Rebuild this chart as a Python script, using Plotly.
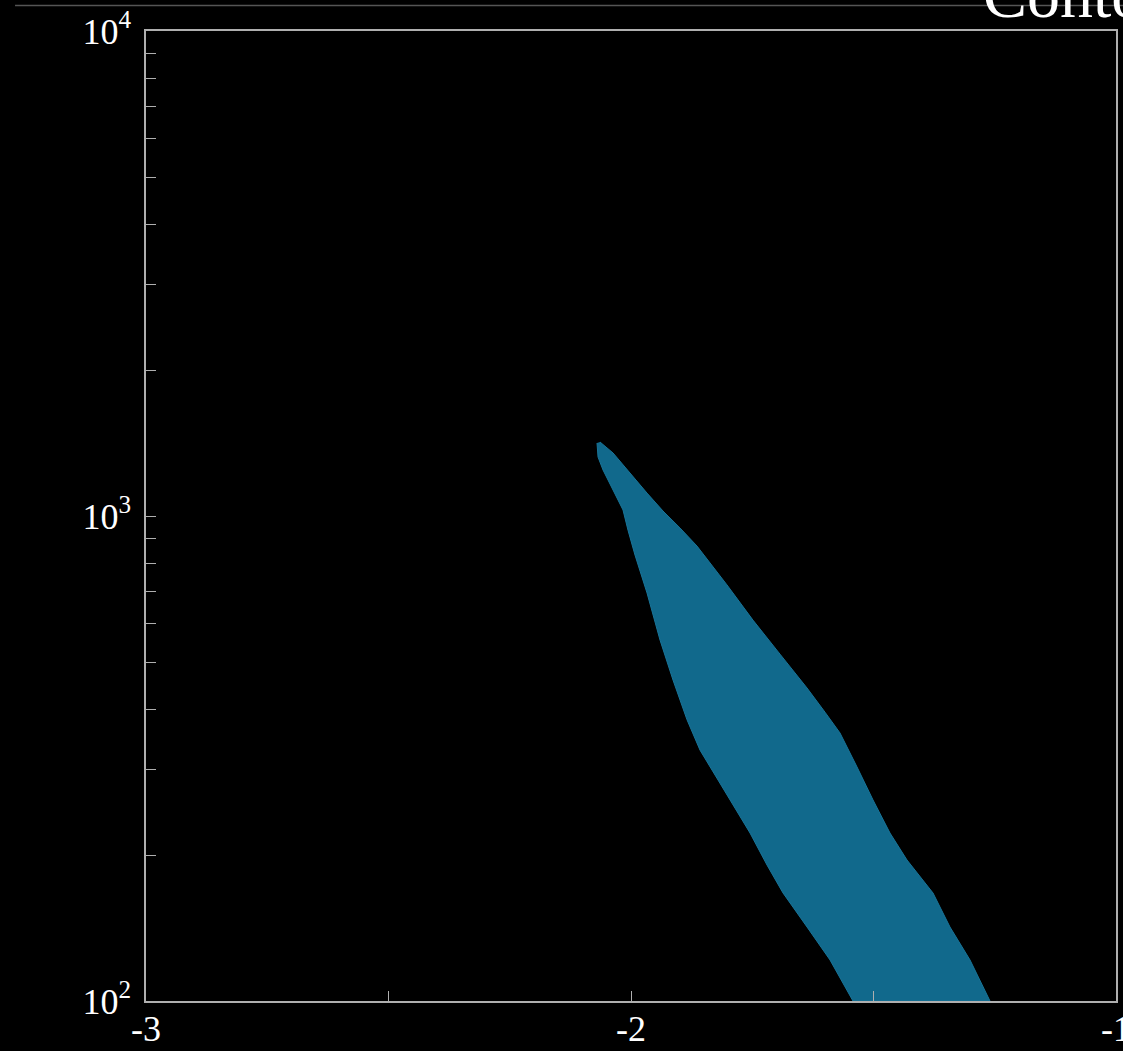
import plotly.graph_objects as go

# Contour region boundary
left_x = [-2.0701, -2.0680, -2.0577, -2.0371, -2.0165, -2.0062, -1.9918, -1.9670, -1.9402,
          -1.9134, -1.8845, -1.8577, -1.8330, -1.7959, -1.7546, -1.7196, -1.6866, -1.6371,
          -1.5897, -1.5423]
left_y = [1414, 1323, 1244, 1131, 1029, 935, 831, 694, 555,
          459, 380, 329, 299.5, 259.7, 222, 190.7, 167, 142.1,
          121.5, 100]
right_x = [-2.0639, -2.0371, -2.0021, -1.9670, -1.9340, -1.8990, -1.8639, -1.8021, -1.7485,
           -1.6928, -1.6371, -1.6000, -1.5691, -1.5340, -1.5010, -1.4660, -1.4309, -1.3773,
           -1.3423, -1.3010, -1.2598]
right_y = [1421, 1349, 1227, 1115, 1024, 945, 867, 721, 610,
           519, 442, 394, 357, 303.8, 259.7, 222, 195.3, 167,
           142.1, 121.5, 100]

x_tickvals = [-3, -2, -1]
x_ticktext = ["-3", "-2", "-1"]
x_minor = [-2.5, -1.5]
y_tickvals = [100, 1000, 10000]
y_ticktext = ["10<sup>2</sup>", "10<sup>3</sup>", "10<sup>4</sup>"]
y_minor = [m * d for d in (100, 1000) for m in range(2, 10)]
title_text = "Contour"

poly_x = left_x + right_x[::-1]
poly_y = left_y + right_y[::-1]

fig = go.Figure()
fig.add_trace(go.Scatter(
    x=poly_x, y=poly_y, mode="lines", fill="toself",
    fillcolor="rgb(17,105,140)",
    line=dict(color="rgb(24,116,152)", width=1),
    showlegend=False, hoverinfo="skip",
))

axis_color = "rgb(175,175,175)"
font_serif = "Liberation Serif, DejaVu Serif, serif"

fig.update_layout(
    width=1123, height=1051,
    margin=dict(l=146, r=7, t=31, b=50, autoexpand=False),
    paper_bgcolor="black", plot_bgcolor="black",
    font=dict(family=font_serif, color="white", size=36),
    xaxis=dict(
        range=[-3, -1], showgrid=False, zeroline=False, automargin=False,
        showline=True, linecolor=axis_color, linewidth=1.5, mirror=True,
        tickmode="array", tickvals=x_tickvals, ticktext=x_ticktext,
        ticks="inside", ticklen=10, tickcolor=axis_color, tickwidth=1,
        tickfont=dict(family=font_serif, size=36, color="white"),
        ticklabelstandoff=-5, ticklabeloverflow="allow",
        minor=dict(tickmode="array", tickvals=x_minor, ticks="inside",
                   ticklen=10, tickcolor=axis_color, tickwidth=1, showgrid=False),
    ),
    yaxis=dict(
        type="log", range=[2, 4], showgrid=False, zeroline=False, automargin=False,
        showline=True, linecolor=axis_color, linewidth=1.5, mirror=True,
        tickmode="array", tickvals=y_tickvals, ticktext=y_ticktext,
        ticks="inside", ticklen=10, tickcolor=axis_color, tickwidth=1,
        tickfont=dict(family=font_serif, size=36, color="white"),
        ticklabelstandoff=6, ticklabeloverflow="allow",
        minor=dict(tickmode="array", tickvals=y_minor, ticks="inside",
                   ticklen=10, tickcolor=axis_color, tickwidth=1, showgrid=False),
    ),
)

# thin rule across the top
fig.add_shape(type="line", xref="paper", yref="paper",
              x0=-0.135, x1=1.01, y0=1.0263, y1=1.0263,
              line=dict(color="rgb(85,85,85)", width=1.5))

fig.add_annotation(text=title_text, xref="paper", yref="paper",
                   x=0.861, y=0.998, xanchor="left", yanchor="bottom",
                   showarrow=False,
                   font=dict(family=font_serif, size=66, color="white"))

fig.write_html(
    "out.html",
    config={"displayModeBar": False},
    post_script="document.body.style.margin='0';document.body.style.background='black';",
)
